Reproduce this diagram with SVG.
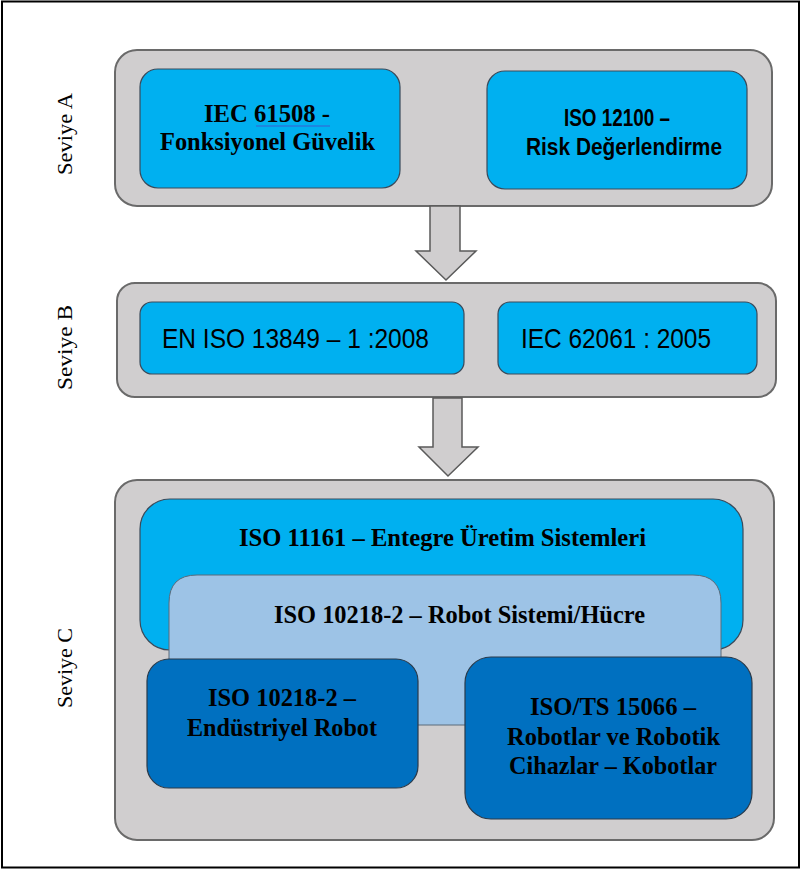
<svg xmlns="http://www.w3.org/2000/svg" width="801" height="871" viewBox="0 0 801 871">
<style>
.lvl{fill:#d0cecf;stroke:#6a6a6a;stroke-width:2}
.bb{fill:#00b0f0;stroke:#3a4a5a;stroke-width:1.2}
.lb{fill:#9dc3e6;stroke:#5a6a7a;stroke-width:1}
.db{fill:#0070c0;stroke:#2a3a4a;stroke-width:1.2}
.arr{fill:#d0cecf;stroke:#5a5a5a;stroke-width:1.5}
.tb{font-family:"Liberation Serif","Times New Roman",serif;font-weight:bold;fill:#000}
.sb{font-family:"Liberation Sans",Arial,sans-serif;fill:#000}
.lab{font-family:"Liberation Serif","Times New Roman",serif;font-size:20px;fill:#000}
</style>
<rect x="2" y="1.5" width="797" height="866" fill="#fff" stroke="#000" stroke-width="2"/>

<g id="levelA">
<rect class="lvl" x="115" y="50" width="657" height="156" rx="22"/>
<g id="iec61508">
<rect class="bb" x="140" y="69" width="260" height="119" rx="18"/>
<text class="tb" style="font-size:25px" x="204" y="122" textLength="126" lengthAdjust="spacingAndGlyphs">IEC 61508 -</text>
<line x1="256" y1="126" x2="330" y2="126" stroke="#3a5fd0" stroke-width="1.2"/>
<text class="tb" style="font-size:25px" x="160" y="150" textLength="215" lengthAdjust="spacingAndGlyphs">Fonksiyonel Güvelik</text>
</g>
<g id="iso12100">
<rect class="bb" x="487" y="71" width="260" height="118" rx="18"/>
<text class="sb" style="font-size:23px;font-weight:bold" x="564" y="126" textLength="106" lengthAdjust="spacingAndGlyphs">ISO 12100 –</text>
<text class="sb" style="font-size:23px;font-weight:bold" x="526" y="155" textLength="196" lengthAdjust="spacingAndGlyphs">Risk Değerlendirme</text>
</g>
</g>

<g id="levelB">
<rect class="lvl" x="117" y="283" width="659" height="114" rx="18"/>
<g id="en13849">
<rect class="bb" x="140" y="302" width="324" height="72" rx="12"/>
<text class="sb" style="font-size:28px" x="162" y="348" textLength="267" lengthAdjust="spacingAndGlyphs">EN ISO 13849 – 1 :2008</text>
</g>
<g id="iec62061">
<rect class="bb" x="498" y="302" width="259" height="72" rx="12"/>
<text class="sb" style="font-size:28px" x="521" y="348" textLength="190" lengthAdjust="spacingAndGlyphs">IEC 62061 : 2005</text>
</g>
</g>

<g id="levelC">
<rect class="lvl" x="115" y="480" width="659" height="360" rx="22"/>
<g id="iso11161">
<rect class="bb" x="140" y="499" width="603" height="151" rx="30"/>
<text class="tb" style="font-size:26px" x="239" y="546" textLength="407" lengthAdjust="spacingAndGlyphs">ISO 11161 – Entegre Üretim Sistemleri</text>
</g>
<g id="iso10218cell">
<path class="lb" d="M169,725 V603 Q169,575 197,575 H693 Q721,575 721,603 V725 Z"/>
<text class="tb" style="font-size:26px" x="274" y="623" textLength="371" lengthAdjust="spacingAndGlyphs">ISO 10218-2 – Robot Sistemi/Hücre</text>
</g>
<g id="iso10218robot">
<rect class="db" x="147" y="659" width="271" height="129" rx="22"/>
<text class="tb" style="font-size:26px" x="208" y="706" textLength="148" lengthAdjust="spacingAndGlyphs">ISO 10218-2 –</text>
<text class="tb" style="font-size:26px" x="187" y="736" textLength="190" lengthAdjust="spacingAndGlyphs">Endüstriyel Robot</text>
</g>
<g id="iso15066">
<rect class="db" x="465" y="657" width="287" height="162" rx="26"/>
<text class="tb" style="font-size:26px" x="530" y="715" textLength="166" lengthAdjust="spacingAndGlyphs">ISO/TS 15066 –</text>
<text class="tb" style="font-size:26px" x="507" y="745" textLength="213" lengthAdjust="spacingAndGlyphs">Robotlar ve Robotik</text>
<text class="tb" style="font-size:26px" x="509" y="774" textLength="208" lengthAdjust="spacingAndGlyphs">Cihazlar – Kobotlar</text>
</g>
</g>

<g id="labels">
<text class="lab" transform="translate(72,175) rotate(-90)" textLength="82" lengthAdjust="spacingAndGlyphs">Seviye A</text>
<text class="lab" transform="translate(72,390) rotate(-90)" textLength="85" lengthAdjust="spacingAndGlyphs">Seviye B</text>
<text class="lab" transform="translate(72,708) rotate(-90)" textLength="80" lengthAdjust="spacingAndGlyphs">Seviye C</text>
</g>

<g id="connectors">
<polygon class="arr" points="430,206 460,206 460,251 476,251 446,280 416,251 430,251"/>
<polygon class="arr" points="433,398 462,398 462,447 478,447 448,476 419,447 433,447"/>
</g>
</svg>
